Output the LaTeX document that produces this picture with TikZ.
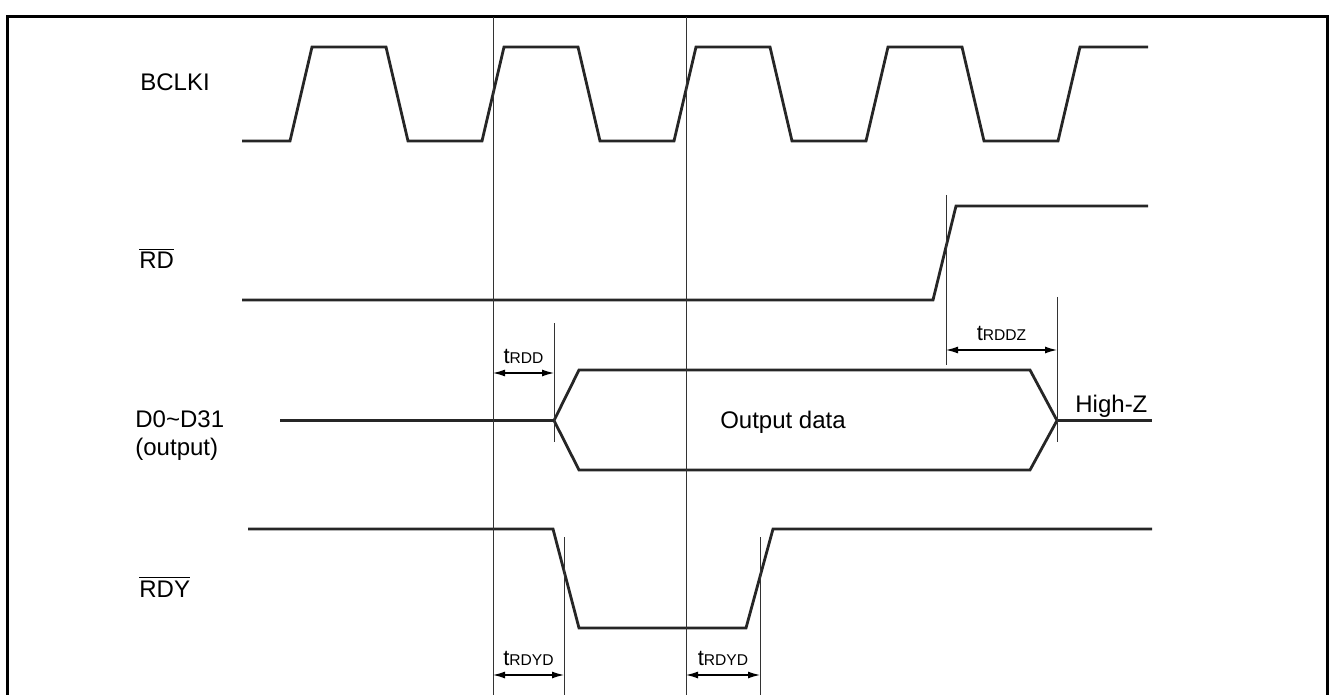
\documentclass[tikz,border=0pt]{standalone}
\usepackage{fontspec}
\setmainfont{Liberation Sans}
\usetikzlibrary{arrows.meta}
\tikzset{
	>={Latex[length=6pt,width=3.5pt]},
	signal/.style={draw=black!85, line width=1.4pt, line join=miter},
	marker/.style={draw=black!80, line width=0.5pt},
	dimline/.style={draw, <->, line width=0.6pt},
	outer/.style={draw, line width=1.5pt},
	siglabel/.style={anchor=base west, inner sep=0pt, font=\fontsize{12}{14}\selectfont},
	timelabel/.style={midway, anchor=base, inner sep=0pt, yshift=5pt},
}
\newcommand{\tname}[1]{{\fontsize{11}{13}\selectfont t}{\fontsize{7.8}{9}\selectfont #1}}
\newcommand{\barname}[1]{$\overline{\mbox{#1}}$}

\begin{document}
\begin{tikzpicture}[x=0.5pt, y=-0.5pt]
\useasboundingbox (0,0) rectangle (1333,695);
\clip (0,0) rectangle (1333,695);
\draw[outer] (7,705) -- (7,17) -- (1327,17) -- (1327,705);

% signal names
\node[siglabel] (bclk) at (140,91) {BCLKI};
\node[siglabel] (rd) at (139,269) {\barname{RD}};
\node[siglabel] (data) at (135,427) {D0\char`\~D31};
\node[siglabel] (dataout) at (135,455) {(output)};
\node[siglabel] (rdy) at (139,597) {\barname{RDY}};

% waveforms
\draw[signal] (242,141) \foreach \k in {0,...,3} {
	-- ({290+192*\k},141) -- ({312+192*\k},47) -- ({386+192*\k},47) -- ({408+192*\k},141)}
	-- (1058,141) -- (1080,47) -- (1148,47);
\draw[signal] (242,300) -- (933,300) -- (956,206) -- (1148,206);
\draw[signal] (280,420.5) -- (554,420.5);
\draw[signal] (554,420.5) -- (579,370) -- (1030,370) -- (1057,420.5) -- (1030,470) -- (579,470) -- cycle;
\draw[signal] (1057,420.5) -- (1152,420.5);
\draw[signal] (248,529) -- (553,529) -- (579,628) -- (746,628) -- (773,529) -- (1152,529);
\node[siglabel, anchor=base] (outdata) at (783,428) {Output data};
\node[siglabel] (highz) at (1075,412) {High-Z};

% timing markers
\draw[marker] (493,17) -- (493,705);
\draw[marker] (686,17) -- (686,705);
\draw[marker] (554,323) -- (554,442);
\draw[marker] (946,195) -- (946,365);
\draw[marker] (1057,297) -- (1057,442);
\draw[marker] (564,537) -- (564,705);
\draw[marker] (760,537) -- (760,705);

% delays
\coordinate (rdd-a) at (493,373);
\coordinate (rdd-b) at (554,373);
\coordinate (rddz-a) at (946,350);
\coordinate (rddz-b) at (1057,350);
\coordinate (rdyd1-a) at (493,675);
\coordinate (rdyd1-b) at (564,675);
\coordinate (rdyd2-a) at (686,675);
\coordinate (rdyd2-b) at (760,675);
\draw[dimline] (rdd-a) -- node[timelabel] (trdd) {\tname{RDD}} (rdd-b);
\draw[dimline] (rddz-a) -- node[timelabel] (trddz) {\tname{RDDZ}} (rddz-b);
\draw[dimline] (rdyd1-a) -- node[timelabel] (trdyd1) {\tname{RDYD}} (rdyd1-b);
\draw[dimline] (rdyd2-a) -- node[timelabel] (trdyd2) {\tname{RDYD}} (rdyd2-b);
\end{tikzpicture}
\end{document}
